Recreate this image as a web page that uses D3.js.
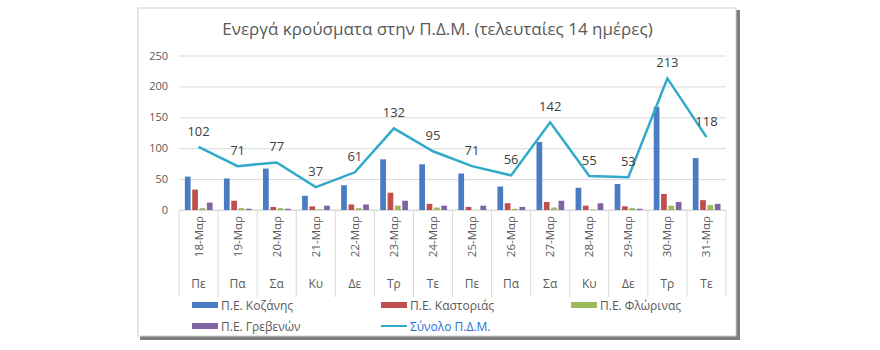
<!DOCTYPE html>
<html>
<head>
<meta charset="utf-8">
<script src="https://cdn.jsdelivr.net/npm/d3@7"></script>
<style>
  html, body { margin: 0; padding: 0; background: #ffffff; }
  svg { display: block; }
  text { font-family: "Open Sans", "Noto Sans", sans-serif; }
</style>
</head>
<body>
<svg id="chart" width="880" height="350"></svg>
<script>
// ---- data ----
const dates = ["18-Μαρ","19-Μαρ","20-Μαρ","21-Μαρ","22-Μαρ","23-Μαρ","24-Μαρ","25-Μαρ","26-Μαρ","27-Μαρ","28-Μαρ","29-Μαρ","30-Μαρ","31-Μαρ"];
const weekdays = ["Πε","Πα","Σα","Κυ","Δε","Τρ","Τε","Πε","Πα","Σα","Κυ","Δε","Τρ","Τε"];
const kozani   = [54, 51, 67, 23, 40, 82, 74, 59, 38, 110, 36, 42, 167, 84];
const kastoria = [33, 15, 5, 6, 9, 28, 10, 5, 11, 13, 7, 6, 26, 16];
const florina  = [3, 3, 3, 1, 3, 7, 4, 0, 2, 4, 1, 3, 7, 8];
const grevena  = [12, 2, 2, 7, 9, 15, 7, 7, 5, 15, 11, 2, 13, 10];
const total    = [102, 71, 77, 37, 61, 132, 95, 71, 56, 142, 55, 53, 213, 118];
const yTicks   = [0, 50, 100, 150, 200, 250];
const seriesNames = ["Π.Ε. Κοζάνης", "Π.Ε. Καστοριάς", "Π.Ε. Φλώρινας", "Π.Ε. Γρεβενών"];
const lineName = "Σύνολο Π.Δ.Μ.";
const titleText = "Ενεργά κρούσματα στην Π.Δ.Μ. (τελευταίες 14 ημέρες)";

const barSeries = [kozani, kastoria, florina, grevena];
const colors = ["#4a7cc4", "#c0504d", "#9bbb59", "#8064a2"];
const lineColor = "#31a9c9";
const textGray = "#595959";

const svg = d3.select("#chart");

// frame with shadow
svg.append("rect").attr("x", 140).attr("y", 10).attr("width", 600).attr("height", 330).attr("fill", "#7f7f7f");
svg.append("rect").attr("x", 138).attr("y", 8).attr("width", 598).attr("height", 328)
  .attr("fill", "#ffffff").attr("stroke", "#d0d0d0").attr("stroke-width", 1);

// scales
const idx = d3.range(dates.length);
const x0 = d3.scaleBand().domain(idx).range([179, 726]).paddingInner(0).paddingOuter(0);
const bw = x0.bandwidth();
const x1 = d3.scaleBand().domain(d3.range(barSeries.length)).range([bw * 0.15, bw * 0.86]).paddingInner(0.22);
const y = d3.scaleLinear().domain([0, 250]).range([210, 55.5]);

// title
svg.append("text").attr("x", 437.5).attr("y", 35).attr("text-anchor", "middle")
  .attr("fill", textGray).style("font-size", "17px").text(titleText);

// gridlines + y axis
const yAxis = d3.axisLeft(y).tickValues(yTicks).tickSize(-(726 - 179)).tickPadding(11);
const gy = svg.append("g").attr("transform", "translate(179,0)").call(yAxis);
gy.select(".domain").remove();
gy.selectAll(".tick line").attr("stroke", "#d9d9d9").attr("stroke-width", 1);
gy.selectAll(".tick text").attr("fill", textGray).style("font-size", "11px")
  .style("font-family", "'Open Sans', sans-serif");

// x axis: baseline + separators
const xSep = svg.append("g");
xSep.append("line").attr("x1", 179).attr("x2", 726).attr("y1", y(0)).attr("y2", y(0))
  .attr("stroke", "#d9d9d9");
const seps = idx.map(i => x0(i)).concat([x0(idx[idx.length - 1]) + bw]);
xSep.selectAll("line.sep").data(seps).enter().append("line").attr("class", "sep")
  .attr("x1", d => d).attr("x2", d => d).attr("y1", y(0)).attr("y2", 297)
  .attr("stroke", "#d9d9d9");

// date labels rotated
svg.append("g").selectAll("text").data(idx).enter().append("text")
  .attr("transform", i => `translate(${x0(i) + bw / 2 + 4},216) rotate(-90)`)
  .attr("text-anchor", "end").attr("fill", textGray).style("font-size", "11.5px")
  .text(i => dates[i]);

// weekday labels
svg.append("g").selectAll("text").data(idx).enter().append("text")
  .attr("x", i => x0(i) + bw / 2).attr("y", 288).attr("text-anchor", "middle")
  .attr("fill", textGray).style("font-size", "12px").text(i => weekdays[i]);

// bars
barSeries.forEach((vals, s) => {
  svg.append("g").selectAll("rect").data(vals).enter().append("rect")
    .attr("x", (d, i) => x0(i) + x1(s))
    .attr("width", x1.bandwidth())
    .attr("y", d => y(d))
    .attr("height", d => y(0) - y(d))
    .attr("fill", colors[s]);
});

// line
const line = d3.line().x((d, i) => x0(i) + bw / 2).y(d => y(d));
svg.append("path").datum(total).attr("d", line).attr("fill", "none")
  .attr("stroke", lineColor).attr("stroke-width", 2.5).attr("stroke-linejoin", "miter");

// data labels
svg.append("g").selectAll("text").data(total).enter().append("text")
  .attr("x", (d, i) => x0(i) + bw / 2).attr("y", d => y(d) - 11)
  .attr("text-anchor", "middle").attr("fill", "#404040").style("font-size", "13px")
  .text(d => d);

// legend
const legendItems = [
  { name: seriesNames[0], color: colors[0], x: 192, y: 305, type: "bar" },
  { name: seriesNames[1], color: colors[1], x: 381, y: 305, type: "bar" },
  { name: seriesNames[2], color: colors[2], x: 571, y: 305, type: "bar" },
  { name: seriesNames[3], color: colors[3], x: 192, y: 326, type: "bar" },
  { name: lineName, color: lineColor, x: 381, y: 326, type: "line" }
];
const lg = svg.append("g");
legendItems.forEach(it => {
  if (it.type === "bar") {
    lg.append("rect").attr("x", it.x).attr("y", it.y - 3).attr("width", 26).attr("height", 6).attr("fill", it.color);
  } else {
    lg.append("line").attr("x1", it.x).attr("x2", it.x + 26).attr("y1", it.y).attr("y2", it.y)
      .attr("stroke", it.color).attr("stroke-width", 2);
  }
  lg.append("text").attr("x", it.x + 29).attr("y", it.y + 4.5)
    .attr("fill", it.type === "line" ? "#1f6fd9" : textGray)
    .style("font-size", "12px").text(it.name);
});
</script>
</body>
</html>
